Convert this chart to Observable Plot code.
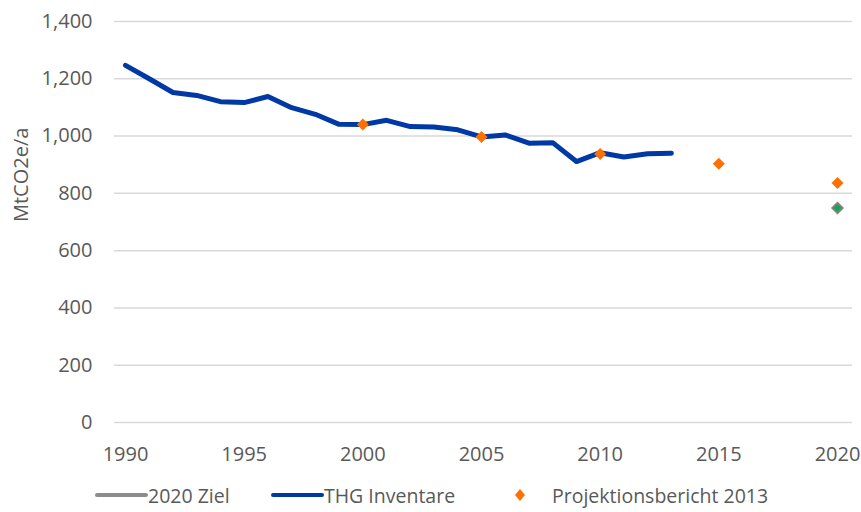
<!DOCTYPE html>
<html>
<head>
<meta charset="utf-8">
<script src="https://cdn.jsdelivr.net/npm/d3@7"></script>
<script src="https://cdn.jsdelivr.net/npm/@observablehq/plot@0.6"></script>
<style>
  body { margin: 0; background: #fff; }
  #wrap { position: relative; width: 861px; height: 512px; font-family: "Open Sans", sans-serif; color: #595959; }
  #legend { position: absolute; left: 0; top: 478px; width: 861px; height: 34px; font-size: 19.5px; }
  .li { position: absolute; top: 0; height: 34px; display: flex; align-items: center; white-space: nowrap; }
  .li svg { display: block; }
</style>
</head>
<body>
<div id="wrap">
  <div id="chart"></div>
  <div id="legend"></div>
</div>
<script>
// THG Inventare (MtCO2e/a)
const inventarYears = [1990,1991,1992,1993,1994,1995,1996,1997,1998,1999,2000,2001,2002,2003,2004,2005,2006,2007,2008,2009,2010,2011,2012,2013];
const inventarValues = [1247,1200,1152,1142,1120,1117,1138,1099,1076,1041,1040,1055,1033,1032,1022,997,1004,975,977,911,942,927,938,940];
// Projektionsbericht 2013
const projYears = [2000,2005,2010,2015,2020];
const projValues = [1040,997,937,903,836];
// 2020 Ziel
const zielYears = [2020];
const zielValues = [749];
// Ticks
const xTicks = [1990,1995,2000,2005,2010,2015,2020];
const yTicks = [0,200,400,600,800,1000,1200,1400];
const seriesNames = ["2020 Ziel","THG Inventare","Projektionsbericht 2013"];
const yTitle = "MtCO2e/a";

const inventar = inventarYears.map((y,i) => ({year: y, value: inventarValues[i]}));
const proj = projYears.map((y,i) => ({year: y, value: projValues[i]}));
const ziel = zielYears.map((y,i) => ({year: y, value: zielValues[i]}));

const chart = Plot.plot({
  width: 861,
  height: 478,
  marginLeft: 114,
  marginRight: 9,
  marginTop: 21,
  marginBottom: 56,
  style: { fontFamily: "Open Sans, sans-serif", fontSize: "20px", color: "#595959", background: "transparent" },
  x: { domain: [1990, 2020], insetLeft: 11, insetRight: 15 },
  y: { domain: [0, 1400] },
  marks: [
    Plot.gridY(yTicks, { stroke: "#d9d9d9", strokeOpacity: 1, strokeWidth: 1.5 }),
    Plot.axisX(xTicks, { tickSize: 0, tickPadding: 24, tickFormat: d => String(d), label: null, fill: "#595959" }),
    Plot.axisY(yTicks, { tickSize: 0, tickPadding: 22, tickFormat: d3.format(","), label: null, fill: "#595959" }),
    Plot.text([yTitle], { frameAnchor: "left", dx: -93, rotate: -90, text: d => d, fill: "#595959", fontSize: 20 }),
    Plot.line(inventar, { x: "year", y: "value", stroke: "#0039A6", strokeWidth: 5, strokeLinejoin: "round", strokeLinecap: "round" }),
    Plot.dot(proj, { x: "year", y: "value", symbol: "diamond2", r: 5.4, fill: "#FF7000", stroke: null }),
    Plot.dot(ziel, { x: "year", y: "value", symbol: "diamond2", r: 4.6, fill: "#00B050", stroke: "#808080", strokeWidth: 2 })
  ]
});
document.getElementById("chart").appendChild(chart);

// Legend
const legend = document.getElementById("legend");
const items = [
  { name: seriesNames[0], left: 95, type: "line", color: "#8c8c8c" },
  { name: seriesNames[1], left: 271, type: "line", color: "#0039A6" },
  { name: seriesNames[2], left: 512, type: "diamond", color: "#FF7000" }
];
for (const it of items) {
  const d = document.createElement("div");
  d.className = "li";
  d.style.left = it.left + "px";
  let sw;
  if (it.type === "line") {
    sw = `<svg width="53" height="10"><line x1="2" y1="5" x2="51" y2="5" stroke="${it.color}" stroke-width="4" stroke-linecap="round"/></svg>`;
  } else {
    sw = `<svg width="40" height="16"><path d="M8,2 L13,8 L8,14 L3,8 Z" fill="${it.color}"/></svg>`;
  }
  d.innerHTML = sw + `<span>${it.name}</span>`;
  legend.appendChild(d);
}
</script>
</body>
</html>
